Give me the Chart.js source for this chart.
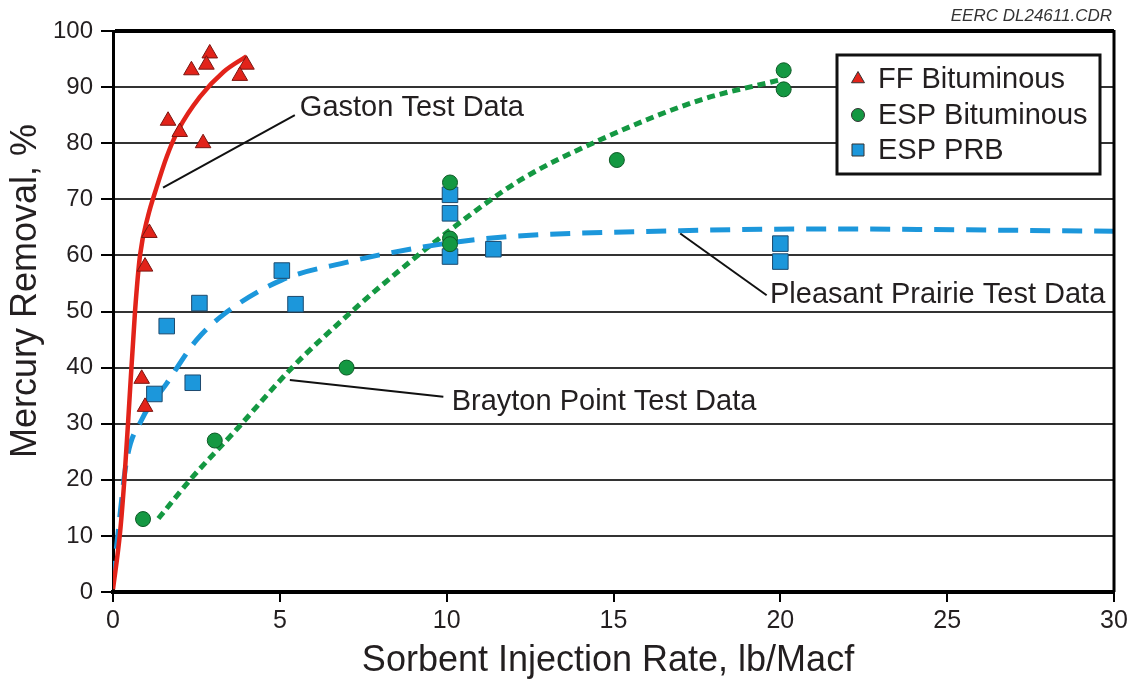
<!DOCTYPE html>
<html>
<head>
<meta charset="utf-8">
<script src="https://cdn.jsdelivr.net/npm/chart.js@4"></script>
<style>
  body { margin: 0; background: #fff; }
  #wrap { width: 1134px; height: 680px; }
</style>
</head>
<body>
<div id="wrap"><canvas id="hgChart" width="1134" height="680"></canvas></div>
<script>
// measured test points (x = lb/Macf, y = % removal)
const ffBitX = [2.9, 2.8, 2.35, 4.0, 3.8, 1.65, 2.0, 2.7, 1.09, 0.96, 0.86, 0.96];
const ffBitY = [96, 94, 93, 94, 92, 84, 82, 80, 64, 58, 38, 33];

const espBitX = [0.9, 3.05, 7.0, 10.1, 10.1, 10.1, 15.1, 20.1, 20.1];
const espBitY = [13, 27, 40, 73, 63, 62, 77, 93, 89.6];

const espPrbX = [1.24, 2.39, 1.61, 2.59, 5.06, 5.47, 10.1, 10.1, 10.1, 11.4, 20.0, 20.0];
const espPrbY = [35.3, 37.3, 47.4, 51.5, 57.3, 51.3, 70.8, 67.5, 59.8, 61.1, 62.1, 58.9];

// fitted curves
const gastonX = [0, 0.21, 0.34, 0.46, 0.66, 0.81, 1.05, 1.3, 1.61, 1.96, 2.61, 3.31, 4.0];
const gastonY = [0.5, 10.5, 20, 31, 50, 60, 67, 72, 77.6, 82.4, 88.3, 92.7, 95.5];

const pleasantX = [0, 0.16, 0.41, 0.86, 1.61, 2.5, 3.3, 5.05, 7.1, 8.0, 11.0, 17, 21.5, 30];
const pleasantY = [2, 11, 23.5, 30.7, 37.2, 44.9, 49.4, 55.6, 58.9, 60.1, 62.9, 64.4, 64.7, 64.3];

const braytonX = [1.36, 2.4, 3.6, 5.4, 7.1, 8.0, 10.1, 12.2, 14.6, 17.6, 20.0];
const braytonY = [13.1, 20.6, 28.3, 40.2, 49.7, 54.4, 64.5, 73.4, 80.6, 87.7, 91.3];

const xTicks = [0, 5, 10, 15, 20, 25, 30];
const yTicks = [0, 10, 20, 30, 40, 50, 60, 70, 80, 90, 100];

const legendLabels = ['FF Bituminous', 'ESP Bituminous', 'ESP PRB'];
const xTitle = 'Sorbent Injection Rate, lb/Macf';
const yTitle = 'Mercury Removal, %';

// callouts: text, text anchor (data units), leader line from -> to (data units)
const callouts = [
  { text: 'Gaston Test Data', tx: 5.6, ty: 84.8, from: [1.5, 72.1], to: [5.45, 85] },
  { text: 'Pleasant Prairie Test Data', tx: 19.69, ty: 51.6, from: [17.0, 63.9], to: [19.59, 52.9] },
  { text: 'Brayton Point Test Data', tx: 10.15, ty: 32.4, from: [5.3, 37.8], to: [9.9, 34.8] }
];

const RED = '#e2231a';
const GREEN = '#149842';
const BLUE = '#1c97db';
const INK = '#231f20';
const FONT = "'Liberation Sans', Arial, sans-serif";

function pts(xs, ys) {
  return xs.map((x, i) => ({ x: x, y: ys[i] }));
}

const fixedBoxes = {
  id: 'fixedBoxes',
  afterDraw(chart) {
    const ctx = chart.ctx;
    const a = chart.chartArea;
    const xs = chart.scales.x, ys = chart.scales.y;
    ctx.save();

    // right frame
    ctx.strokeStyle = '#000';
    ctx.lineWidth = 3;
    ctx.beginPath();
    ctx.moveTo(a.right, a.top - 1);
    ctx.lineTo(a.right, a.bottom);
    ctx.stroke();

    // axis titles
    ctx.fillStyle = INK;
    ctx.font = '36px ' + FONT;
    ctx.textAlign = 'center';
    ctx.textBaseline = 'middle';
    ctx.fillText(xTitle, 608, 661);
    ctx.save();
    ctx.translate(26, 291);
    ctx.rotate(-Math.PI / 2);
    ctx.fillText(yTitle, 0, 0);
    ctx.restore();

    // callouts
    ctx.lineWidth = 2;
    ctx.strokeStyle = '#111';
    ctx.font = '29px ' + FONT;
    ctx.textBaseline = 'alphabetic';
    ctx.textAlign = 'left';
    callouts.forEach(c => {
      ctx.beginPath();
      ctx.moveTo(xs.getPixelForValue(c.from[0]), ys.getPixelForValue(c.from[1]));
      ctx.lineTo(xs.getPixelForValue(c.to[0]), ys.getPixelForValue(c.to[1]));
      ctx.stroke();
      ctx.fillText(c.text, xs.getPixelForValue(c.tx), ys.getPixelForValue(c.ty));
    });

    // legend box
    const bx = 837, by = 55, bw = 263, bh = 119;
    ctx.fillStyle = '#fff';
    ctx.fillRect(bx, by, bw, bh);
    ctx.lineWidth = 3;
    ctx.strokeStyle = '#111';
    ctx.strokeRect(bx, by, bw, bh);
    const rows = [79, 115, 150];
    const styles = [
      { s: 'triangle', c: RED, r: 7.5 },
      { s: 'circle', c: GREEN, r: 6.5 },
      { s: 'rect', c: BLUE, r: 8.5 }
    ];
    ctx.font = '29px ' + FONT;
    ctx.textBaseline = 'middle';
    legendLabels.forEach((lab, i) => {
      ctx.fillStyle = styles[i].c;
      ctx.strokeStyle = '#333';
      ctx.lineWidth = 1;
      Chart.helpers.drawPoint(ctx, { pointStyle: styles[i].s, radius: styles[i].r, borderWidth: 1 }, 858, rows[i]);
      ctx.fillStyle = INK;
      ctx.fillText(lab, 878, rows[i] + 1);
    });

    // drawing id
    ctx.font = 'italic 17px ' + FONT;
    ctx.textAlign = 'right';
    ctx.textBaseline = 'alphabetic';
    ctx.fillStyle = '#333';
    ctx.fillText('EERC DL24611.CDR', 1112, 21);
    ctx.restore();
  }
};

window.addEventListener('DOMContentLoaded', () => {
  const ctx = document.getElementById('hgChart').getContext('2d');

  new Chart(ctx, {
    type: 'scatter',
    data: {
      datasets: [
        {
          label: legendLabels[0],
          data: pts(ffBitX, ffBitY),
          pointStyle: 'triangle',
          pointRadius: 9,
          backgroundColor: RED,
          borderColor: '#7a1510',
          borderWidth: 1,
          order: 1
        },
        {
          label: legendLabels[1],
          data: pts(espBitX, espBitY),
          pointStyle: 'circle',
          pointRadius: 7.5,
          backgroundColor: GREEN,
          borderColor: '#0d5a26',
          borderWidth: 1,
          order: 1
        },
        {
          label: legendLabels[2],
          data: pts(espPrbX, espPrbY),
          pointStyle: 'rect',
          pointRadius: 11,
          backgroundColor: BLUE,
          borderColor: '#1d4a6e',
          borderWidth: 1,
          order: 1
        },
        {
          label: 'Gaston fit',
          data: pts(gastonX, gastonY),
          showLine: true,
          pointRadius: 0,
          borderColor: RED,
          borderWidth: 4.5,
          cubicInterpolationMode: 'monotone',
          order: 2
        },
        {
          label: 'Pleasant Prairie fit',
          data: pts(pleasantX, pleasantY),
          showLine: true,
          pointRadius: 0,
          borderColor: BLUE,
          borderWidth: 5,
          borderDash: [20, 12],
          cubicInterpolationMode: 'monotone',
          order: 3
        },
        {
          label: 'Brayton Point fit',
          data: pts(braytonX, braytonY),
          showLine: true,
          pointRadius: 0,
          borderColor: GREEN,
          borderWidth: 5,
          borderDash: [8, 5],
          cubicInterpolationMode: 'monotone',
          order: 3
        }
      ]
    },
    options: {
      responsive: false,
      animation: false,
      layout: { padding: { top: 31, right: 20, left: 0, bottom: 0 } },
      plugins: {
        legend: { display: false },
        tooltip: { enabled: false }
      },
      scales: {
        x: {
          type: 'linear',
          min: 0,
          max: 30,
          afterFit(scale) { scale.height = 88; },
          afterBuildTicks(scale) { scale.ticks = xTicks.map(v => ({ value: v })); },
          ticks: {
            color: INK,
            padding: 4,
            font: { family: FONT, size: 25 }
          },
          grid: {
            drawOnChartArea: false,
            drawTicks: true,
            tickLength: 10,
            tickColor: '#000',
            lineWidth: 2
          },
          border: { display: true, color: '#000', width: 4 }
        },
        y: {
          min: 0,
          max: 100,
          afterFit(scale) { scale.width = 113; },
          afterBuildTicks(scale) { scale.ticks = yTicks.map(v => ({ value: v })); },
          ticks: {
            color: INK,
            padding: 8,
            font: { family: FONT, size: 24 }
          },
          grid: {
            color: ctx => ctx.tick && ctx.tick.value === 100 ? '#000' : '#333',
            lineWidth: ctx => ctx.tick && ctx.tick.value === 100 ? 4 : 2,
            drawTicks: true,
            tickLength: 12,
            tickColor: '#000',
            tickWidth: 2
          },
          border: { display: true, color: '#000', width: 3 }
        }
      }
    },
    plugins: [fixedBoxes]
  });
});
</script>
</body>
</html>
